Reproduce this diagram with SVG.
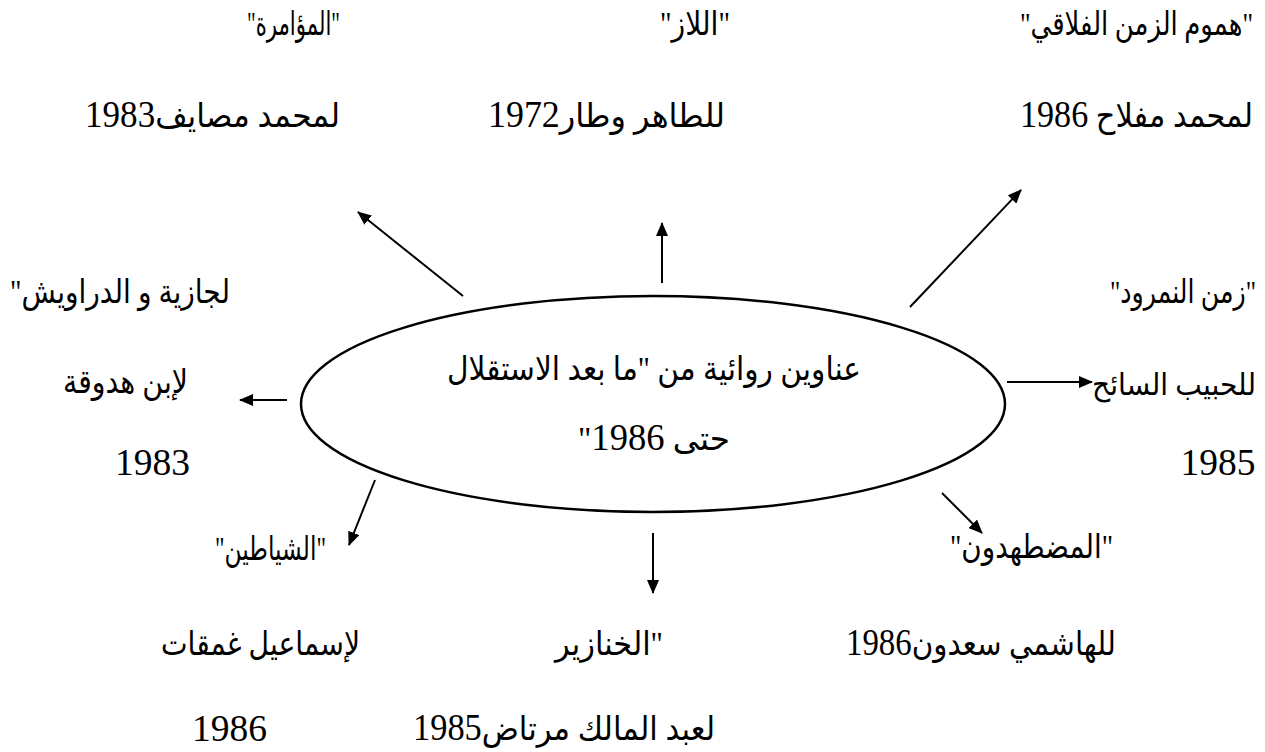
<svg xmlns="http://www.w3.org/2000/svg" width="1265" height="752" viewBox="0 0 1265 752">
<style>
  text { font-family: "Liberation Serif", "DejaVu Sans", sans-serif; font-size: 33px; fill: #000; direction: rtl; text-anchor: middle; }
  text.s { font-size: 30px; }
  text.t { font-size: 26px; }
  .num { font-size: 37px; }
  tspan.d { font-family: "Liberation Serif", serif; font-size: 37px; }
  .conn line { stroke: #000; stroke-width: 2; marker-end: url(#ah); }
  .oval { fill: #fff; stroke: #000; stroke-width: 2.5; }
</style>
<defs>
  <marker id="ah" markerUnits="userSpaceOnUse" markerWidth="14" markerHeight="12" refX="13" refY="6" orient="auto">
    <path d="M0,0 L14,6 L0,12 z" fill="#000"/>
  </marker>
</defs>
<rect width="1265" height="752" fill="#fff"/>

<g id="center">
  <ellipse class="oval" cx="653" cy="404" rx="352" ry="108"/>
  <text x="654" y="380" textLength="414" lengthAdjust="spacingAndGlyphs">عناوين روائية من "ما بعد الاستقلال</text>
  <text x="654" y="450" textLength="152" lengthAdjust="spacingAndGlyphs">حتى <tspan class="d">1986</tspan>"</text>
</g>

<g id="node-moamara">
  <text x="293.5" y="35" textLength="93" lengthAdjust="spacingAndGlyphs">"المؤامرة"</text>
  <text x="212.5" y="127" textLength="255" lengthAdjust="spacingAndGlyphs">لمحمد مصايف<tspan class="d">1983</tspan></text>
</g>
<g id="node-allaz">
  <text x="695" y="35" textLength="70" lengthAdjust="spacingAndGlyphs">"اللاز"</text>
  <text x="606.5" y="127" textLength="237" lengthAdjust="spacingAndGlyphs">للطاهر وطار<tspan class="d">1972</tspan></text>
</g>
<g id="node-humum">
  <text class="t" transform="translate(1136.5,35) scale(1,1.25)" x="0" y="0" textLength="233" lengthAdjust="spacingAndGlyphs">"هموم الزمن الفلاقي"</text>
  <text x="1136.5" y="127" textLength="233" lengthAdjust="spacingAndGlyphs">لمحمد مفلاح <tspan class="d">1986</tspan></text>
</g>
<g id="node-jazia">
  <text x="120" y="303" textLength="220" lengthAdjust="spacingAndGlyphs">لجازية و الدراويش"</text>
  <text x="125.5" y="393" textLength="125" lengthAdjust="spacingAndGlyphs">لإبن هدوقة</text>
  <text class="num" x="152.5" y="475" textLength="75" lengthAdjust="spacingAndGlyphs">1983</text>
</g>
<g id="node-namrud">
  <text class="t" transform="translate(1183,303) scale(1,1.25)" x="0" y="0" textLength="146" lengthAdjust="spacingAndGlyphs">"زمن النمرود"</text>
  <text class="s" x="1174" y="395" textLength="164" lengthAdjust="spacingAndGlyphs">للحبيب السائح</text>
  <text class="num" x="1218" y="475" textLength="75" lengthAdjust="spacingAndGlyphs">1985</text>
</g>
<g id="node-mudtahidun">
  <text x="1031.5" y="558" textLength="163" lengthAdjust="spacingAndGlyphs">"المضطهدون"</text>
  <text x="981" y="655" textLength="270" lengthAdjust="spacingAndGlyphs">للهاشمي سعدون<tspan class="d">1986</tspan></text>
</g>
<g id="node-khanazir">
  <text x="609" y="655" textLength="108" lengthAdjust="spacingAndGlyphs">"الخنازير</text>
  <text x="564" y="740" textLength="302" lengthAdjust="spacingAndGlyphs">لعبد المالك مرتاض<tspan class="d">1985</tspan></text>
</g>
<g id="node-shayatin">
  <text x="270.5" y="560" textLength="111" lengthAdjust="spacingAndGlyphs">"الشياطين"</text>
  <text x="260.5" y="655" textLength="199" lengthAdjust="spacingAndGlyphs">لإسماعيل غمقات</text>
  <text class="num" x="229.5" y="741" textLength="75" lengthAdjust="spacingAndGlyphs">1986</text>
</g>

<g id="connectors" class="conn">
  <line x1="463" y1="296" x2="358" y2="212"/>
  <line x1="662" y1="283" x2="662" y2="223"/>
  <line x1="910" y1="307" x2="1021" y2="190"/>
  <line x1="1007" y1="382" x2="1092" y2="382"/>
  <line x1="287" y1="400" x2="240" y2="400"/>
  <line x1="375" y1="480" x2="349" y2="545"/>
  <line x1="653" y1="533" x2="653" y2="593"/>
  <line x1="942" y1="493" x2="982" y2="533"/>
</g>
</svg>
